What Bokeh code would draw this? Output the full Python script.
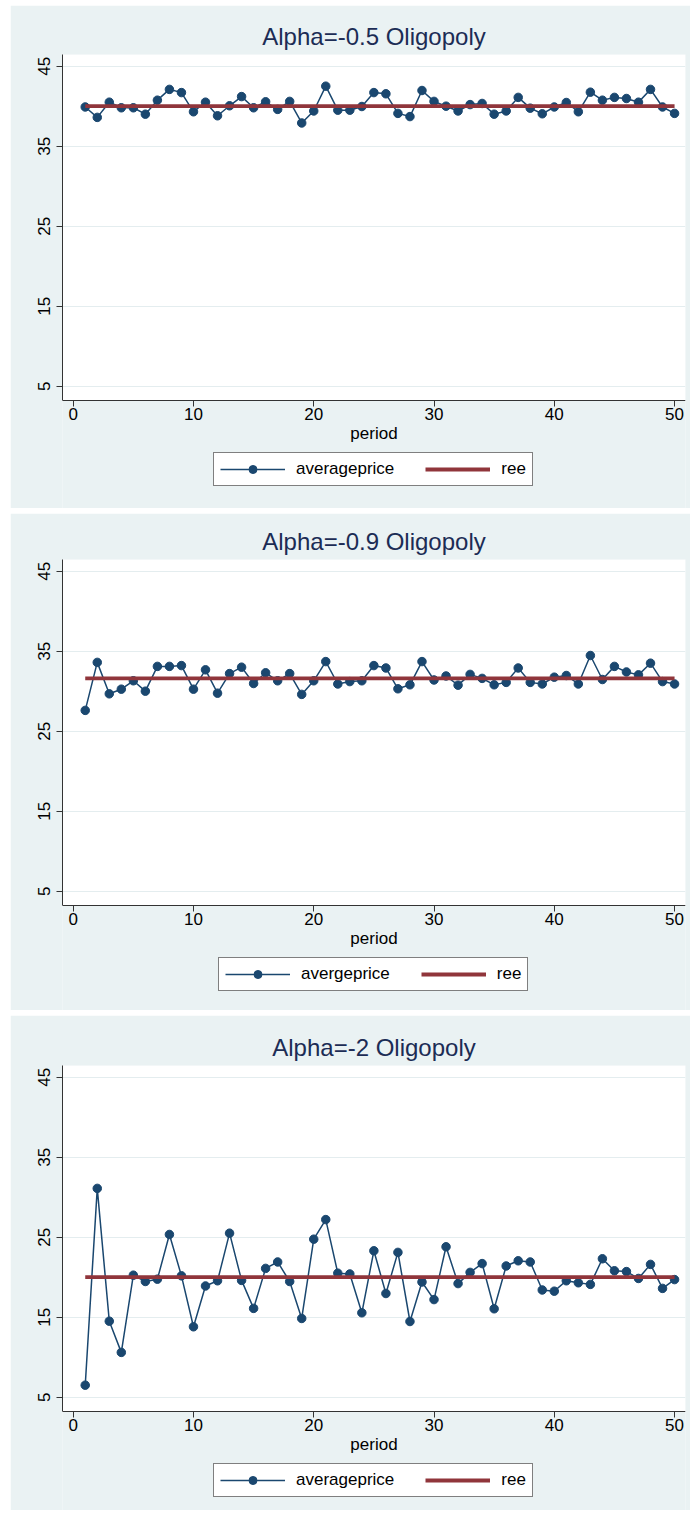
from bokeh.plotting import figure
from bokeh.layouts import column, row
from bokeh.models import (FixedTicker, Legend, LegendItem, Range1d, Spacer,
                          BoxAnnotation)
from bokeh.embed import file_html
from bokeh.resources import INLINE

# ---------------- data ----------------
periods = list(range(1, 51))

price_a05 = [39.9, 38.6, 40.5, 39.8, 39.8, 39.0, 40.75, 42.1, 41.7, 39.3,
             40.5, 38.8, 40.05, 41.2, 39.8, 40.55, 39.6, 40.6, 37.9, 39.4,
             42.5, 39.5, 39.5, 39.96, 41.7, 41.55, 39.1, 38.7, 41.96, 40.6,
             40.0, 39.4, 40.2, 40.34, 39.0, 39.4, 41.1, 39.75, 39.05, 39.9,
             40.46, 39.3, 41.75, 40.75, 41.1, 40.96, 40.5, 42.1, 39.9, 39.1]
ree_a05 = 40.0

price_a09 = [27.6, 33.6, 29.67, 30.25, 31.3, 30.0, 33.1, 33.1, 33.2, 30.25,
             32.67, 29.75, 32.2, 33.0, 30.96, 32.3, 31.3, 32.2, 29.6, 31.3,
             33.7, 30.9, 31.2, 31.3, 33.2, 32.9, 30.3, 30.8, 33.7, 31.4,
             31.9, 30.75, 32.1, 31.6, 30.8, 31.1, 32.9, 31.1, 30.9, 31.75,
             31.96, 30.9, 34.46, 31.46, 33.1, 32.4, 32.04, 33.5, 31.2, 30.9]
ree_a09 = 31.6

price_a2 = [6.5, 31.1, 14.5, 10.6, 20.25, 19.46, 19.75, 25.34, 20.17, 13.8,
            18.9, 19.55, 25.5, 19.6, 16.1, 21.1, 21.9, 19.46, 14.84, 24.75,
            27.2, 20.5, 20.4, 15.55, 23.3, 17.96, 23.1, 14.46, 19.4, 17.2,
            23.8, 19.2, 20.6, 21.7, 16.05, 21.4, 22.05, 21.9, 18.4, 18.25,
            19.55, 19.3, 19.1, 22.3, 20.8, 20.7, 19.84, 21.6, 18.6, 19.7]
ree_a2 = 20.0

titles = ["Alpha=-0.5 Oligopoly", "Alpha=-0.9 Oligopoly", "Alpha=-2 Oligopoly"]
price_labels = ["averageprice", "avergeprice", "averageprice"]
x_ticks = [0, 10, 20, 30, 40, 50]
y_ticks = [5, 15, 25, 35, 45]
x_label = "period"

# ---------------- style / geometry ----------------
NAVY = "#1A476F"
MAROON = "#90353B"
BG = "#EAF2F3"
GRID = "#E4EDEF"
TITLE_C = "#1C2C55"
FONT = "Liberation Sans"
WIDTH = 680
X_LO, X_HI = -0.89, 50.91
Y_TOP, Y_AXIS = 46.46, 3.21       # plot region edges (value units)
PX_PER_UNIT = 8.0                 # vertical scale of the plot region
LEGEND_BOTTOM = 432               # px below top of plot region


def make_panel(title, label, prices, ree, height, top, legend_x):
    frame_h = height - top
    y_lo = Y_TOP - frame_h / PX_PER_UNIT
    p = figure(width=WIDTH, height=height, output_backend="svg",
               toolbar_location=None,
               x_range=Range1d(X_LO, X_HI), y_range=Range1d(y_lo, Y_TOP),
               min_border_left=52, min_border_right=5,
               min_border_top=top, min_border_bottom=0)
    p.background_fill_color = BG
    p.border_fill_color = BG
    p.outline_line_color = None

    # white plot region above the x axis
    p.add_layout(BoxAnnotation(bottom=Y_AXIS, fill_color="white", fill_alpha=1.0,
                               line_color=None, level="image"))

    p.title.text = title
    p.title.align = "center"
    p.title.text_font = FONT
    p.title.text_font_size = "24px"
    p.title.text_font_style = "normal"
    p.title.text_color = TITLE_C
    p.title.standoff = 9

    p.xgrid.visible = False
    p.ygrid.grid_line_color = GRID
    p.ygrid.grid_line_width = 1.2
    p.ygrid.ticker = FixedTicker(ticks=y_ticks)

    for ax in (p.xaxis[0], p.yaxis[0]):
        ax.axis_line_color = "#333333"
        ax.major_tick_line_color = "#333333"
        ax.minor_tick_line_color = None
        ax.major_tick_in = 0
        ax.major_tick_out = 6
        ax.major_label_text_font = FONT
        ax.major_label_text_font_size = "17px"
        ax.major_label_text_color = "black"

    p.xaxis.ticker = FixedTicker(ticks=x_ticks)
    p.xaxis.fixed_location = Y_AXIS
    p.xaxis.major_label_standoff = 1
    p.xaxis.axis_label = x_label
    p.xaxis.axis_label_text_font = FONT
    p.xaxis.axis_label_text_font_size = "17px"
    p.xaxis.axis_label_text_font_style = "normal"
    p.xaxis.axis_label_text_color = "black"
    p.xaxis.axis_label_standoff = 1

    p.yaxis.ticker = FixedTicker(ticks=y_ticks)
    p.yaxis.bounds = (Y_AXIS, Y_TOP)
    p.yaxis.major_label_orientation = "vertical"
    p.yaxis.major_label_standoff = 6

    ln = p.line(periods, prices, line_color=NAVY, line_width=1.5)
    sc = p.scatter(periods, prices, size=8.5, fill_color=NAVY, line_color=NAVY)
    rl = p.line(periods, [ree] * len(periods), line_color=MAROON, line_width=3.8)

    legend = Legend(items=[LegendItem(label=label, renderers=[ln, sc]),
                           LegendItem(label="ree", renderers=[rl])],
                    orientation="horizontal",
                    location=(legend_x, frame_h - LEGEND_BOTTOM))
    legend.label_text_font = FONT
    legend.label_text_font_size = "17px"
    legend.label_text_color = "black"
    legend.glyph_width = 65
    legend.glyph_height = 20
    legend.label_height = 20
    legend.label_standoff = 11
    legend.spacing = 31
    legend.padding = 6
    legend.margin = 0
    legend.border_line_color = "black"
    legend.border_line_width = 1
    legend.background_fill_color = "white"
    legend.background_fill_alpha = 1.0
    p.add_layout(legend, "center")
    return p


p1 = make_panel(titles[0], price_labels[0], price_a05, ree_a05, 503, 49, 151)
p2 = make_panel(titles[1], price_labels[1], price_a09, ree_a09, 497, 46, 156)
p3 = make_panel(titles[2], price_labels[2], price_a2, ree_a2, 495, 50, 151)

layout = column(
    Spacer(height=0),
    row(Spacer(width=10), p1, spacing=0),
    row(Spacer(width=10), p2, spacing=0),
    row(Spacer(width=10), p3, spacing=0),
    spacing=5,
)

open("out.html", "w").write(file_html(layout, INLINE))
